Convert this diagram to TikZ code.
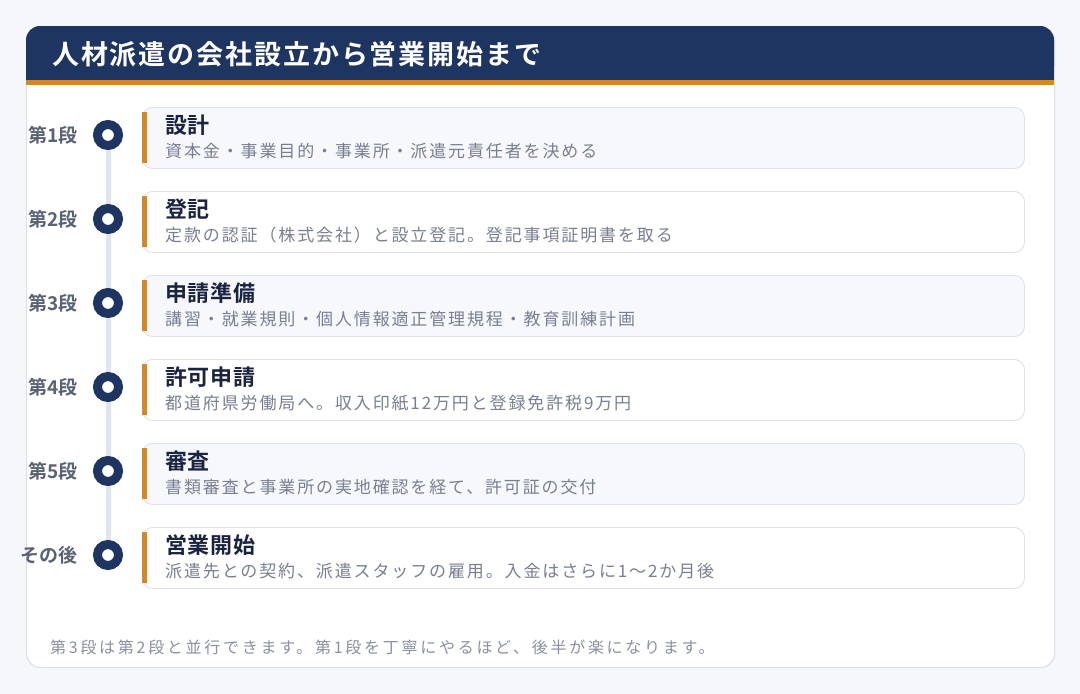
\documentclass[tikz,border=0pt]{standalone}
\usepackage{fontspec}
\setmainfont{Noto Sans CJK JP}[BoldFont={Noto Sans CJK JP Bold}]
\newfontfamily\descfont{Noto Sans CJK JP}[LetterSpace=11]
\newfontfamily\footfont{Noto Sans CJK JP}[LetterSpace=17]
\newfontfamily\headfont{Noto Sans CJK JP Bold}[LetterSpace=7]
\newfontfamily\stitlefont{Noto Sans CJK JP Bold}[LetterSpace=3]
\definecolor{navy}{HTML}{1E3461}
\definecolor{accent}{HTML}{D08A2A}
\definecolor{cardline}{HTML}{DCE0EA}
\definecolor{boxline}{HTML}{DDE1EC}
\definecolor{oddfill}{HTML}{F6F8FC}
\definecolor{labelgray}{HTML}{5A6275}
\definecolor{descgray}{HTML}{787F92}
\definecolor{foot}{HTML}{8A90A2}
\definecolor{railc}{HTML}{E1E5EF}
\definecolor{titlec}{HTML}{1A2340}
\definecolor{bgc}{HTML}{F6F7FA}
\tikzset{
  stepbox/.style={draw=boxline, line width=0.9pt, rounded corners=10pt},
  bar/.style={fill=accent, draw=none},
  dot/.style={circle, draw=navy, line width=9pt, fill=white, minimum size=21pt, inner sep=0pt},
  steplabel/.style={anchor=east, font=\bfseries\fontsize{19}{21}\selectfont, text=labelgray, inner sep=0pt},
  steptitle/.style={anchor=west, font=\stitlefont\fontsize{22}{24}\selectfont, text=titlec, inner sep=0pt},
  stepdesc/.style={anchor=west, font=\descfont\fontsize{17}{19}\selectfont, text=descgray, inner sep=0pt},
}
\begin{document}
\begin{tikzpicture}[x=1pt,y=-1pt]
\useasboundingbox (0,0) rectangle (1080,694);
\fill[bgc] (0,0) rectangle (1080,694);
% card
\node[draw=cardline, fill=white, line width=1.2pt, rounded corners=14pt, minimum width=1028pt, minimum height=641pt, anchor=north west, inner sep=0pt] (card) at (26,26) {};
% header
\fill[navy, rounded corners=14pt] (26,80) -- (26,26) -- (1054,26) -- (1054,80) -- cycle;
\fill[navy] (26,60) rectangle (1054,80);
\fill[accent] (26,80) rectangle (1054,85);
\node[anchor=west, font=\headfont\fontsize{27}{29}\selectfont, text=white, inner sep=0pt] (title) at (52,54) {人材派遣の会社設立から営業開始まで};
% rail
\coordinate (r0) at (108,135);
\coordinate (r5) at (108,555);
\draw[railc, line width=5pt] (r0) -- (r5);
% steps
\foreach \i/\lab/\tt/\dd/\ff in {
 0/第1段/設計/資本金・事業目的・事業所・派遣元責任者を決める/oddfill,
 1/第2段/登記/定款の認証（株式会社）と設立登記。登記事項証明書を取る/white,
 2/第3段/申請準備/講習・就業規則・個人情報適正管理規程・教育訓練計画/oddfill,
 3/第4段/許可申請/都道府県労働局へ。収入印紙12万円と登録免許税9万円/white,
 4/第5段/審査/書類審査と事業所の実地確認を経て、許可証の交付/oddfill,
 5/その後/営業開始/派遣先との契約、派遣スタッフの雇用。入金はさらに1〜2か月後/white}{
  \pgfmathsetmacro{\yy}{107+84*\i}
  \node[stepbox, fill=\ff, minimum width=882pt, minimum height=61pt, anchor=north west, inner sep=0pt] (box\i) at (142,\yy) {};
  \fill[bar] (142,\yy+5) rectangle (147,\yy+56);
  \node[steptitle] (t\i) at (165,\yy+18) {\tt};
  \node[stepdesc] (d\i) at (165,\yy+44) {\dd};
  \node[dot] (c\i) at (108,\yy+28) {};
  \node[steplabel] (l\i) at (78,\yy+28) {\lab};
}
\node[anchor=west, font=\footfont\fontsize{16}{18}\selectfont, text=foot, inner sep=0pt] (footer) at (50,647) {第3段は第2段と並行できます。第1段を丁寧にやるほど、後半が楽になります。};
\end{tikzpicture}
\end{document}
